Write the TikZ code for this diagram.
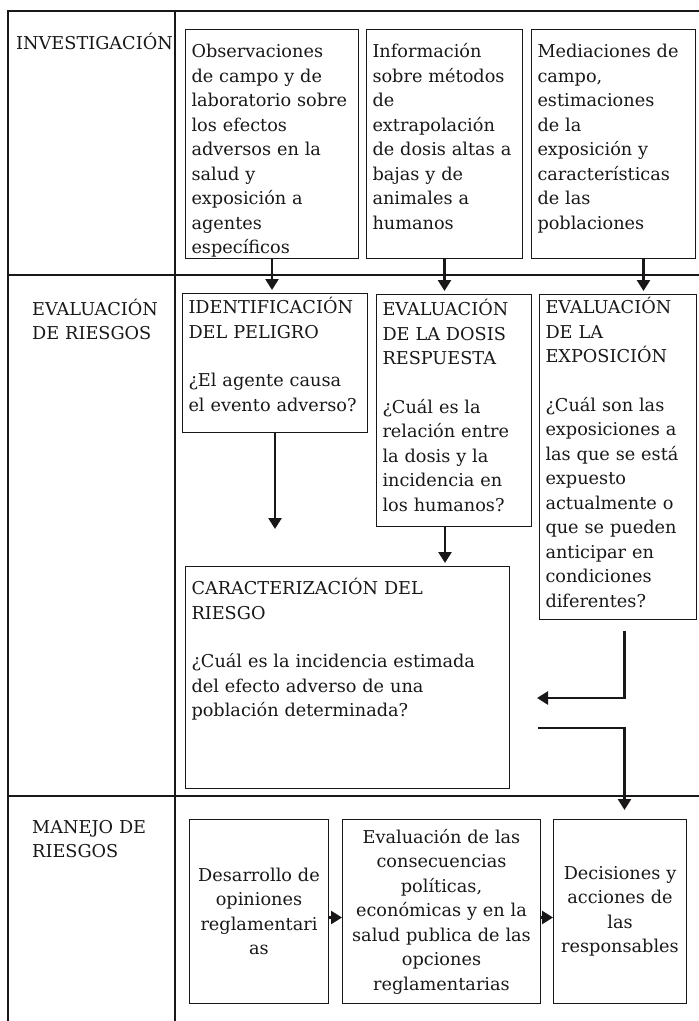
\documentclass[tikz,border=0pt]{standalone}
\usepackage{fontspec}
\setmainfont{DejaVu Serif}
\usetikzlibrary{arrows.meta,calc}
\definecolor{tinta}{HTML}{1A1718}
\tikzset{
  caja/.style={draw=tinta, line width=1pt, anchor=north west, inner xsep=6pt, inner ysep=0pt, align=left, text=tinta},
  cajac/.style={caja, align=center},
  etiqueta/.style={anchor=base west, inner sep=0pt, align=left, text width=155pt, text=tinta},
  flecha/.style={draw=tinta, line width=2.5pt, -{Triangle[length=11pt,width=13pt]}},
  linea/.style={draw=tinta, line width=1.2pt},
}
\begin{document}
\begin{tikzpicture}[x=1pt, y=-1pt, font=\fontsize{17.7}{24.5}\selectfont]
\useasboundingbox (0,0) rectangle (699,1021);

% tabla
\draw[linea] (8,1021) -- (8,11) -- (699,11);
\draw[linea] (175,11) -- (175,1021);
\draw[linea] (8,275) -- (699,275);
\draw[linea] (8,796) -- (699,796);

% etiquetas de las filas
\node[etiqueta] (inv) at (16,49) {INVESTIGACIÓN};
\node[etiqueta] (evr) at (32,315) {EVALUACIÓN\\DE RIESGOS};
\node[etiqueta] (man) at (32,833) {MANEJO DE\\RIESGOS};

% investigacion
\node[caja, text width=161pt, text height=28pt, text depth=201pt] (obs) at (185,29)
  {Observaciones\\de campo y de\\laboratorio sobre\\los efectos\\adversos en la\\salud y\\exposición a\\agentes\\específicos};
\node[caja, text width=144pt, text height=28pt, text depth=201pt] (inf) at (366,29)
  {Información\\sobre métodos\\de\\extrapolación\\de dosis altas a\\bajas y de\\animales a\\humanos};
\node[caja, text width=152pt, text height=28pt, text depth=201pt] (med) at (531,29)
  {Mediaciones de\\campo,\\estimaciones\\de la\\exposición y\\características\\de las\\poblaciones};

% evaluacion de riesgos
\node[caja, text width=173pt, text height=20pt, text depth=119pt] (ident) at (182,293)
  {IDENTIFICACIÓN\\DEL PELIGRO\\[24pt]¿El agente causa\\el evento adverso?};
\node[caja, text width=143pt, text height=21pt, text depth=211pt] (dosis) at (376,294)
  {EVALUACIÓN\\DE LA DOSIS\\RESPUESTA\\[24pt]¿Cuál es la\\relación entre\\la dosis y la\\incidencia en\\los humanos?};
\node[caja, text width=145pt, text height=19pt, text depth=306pt] (expo) at (539,294)
  {EVALUACIÓN\\DE LA\\EXPOSICIÓN\\[24pt]¿Cuál son las\\exposiciones a\\las que se está\\expuesto\\actualmente o\\que se pueden\\anticipar en\\condiciones\\diferentes?};
\node[caja, text width=312pt, text height=28pt, text depth=194pt] (carac) at (185,566)
  {CARACTERIZACIÓN DEL\\RIESGO\\[24pt]¿Cuál es la incidencia estimada\\del efecto adverso de una\\población determinada?};

% manejo de riesgos
\node[cajac, text width=127pt, minimum height=184pt] (des) at (189,819)
  {Desarrollo de\\opiniones\\reglamentari\\as};
\node[cajac, text width=186pt, minimum height=184pt] (cons) at (342,819)
  {Evaluación de las\\consecuencias\\políticas,\\económicas y en la\\salud publica de las\\opciones\\reglamentarias};
\node[cajac, text width=121pt, minimum height=184pt] (dec) at (553,819)
  {Decisiones y\\acciones de\\las\\responsables};

% flechas
\coordinate (finid) at ($(ident.south)+(0,96)$);
\coordinate (ex1) at ($(expo.south)+(6.5,11)$);
\coordinate (ex2) at (537,698);
\coordinate (ca1) at (538,728);
\draw[flecha, shorten >=3pt] (obs.south) -- (obs.south |- ident.north);
\draw[flecha, shorten >=3pt] (inf.south) -- (inf.south |- dosis.north);
\draw[flecha, shorten >=3pt] ([xshift=30pt]med.south) -- ([xshift=30pt]med.south |- expo.north);
\draw[flecha] (ident.south) -- (finid);
\draw[flecha, shorten >=3pt] ([xshift=-9pt]dosis.south) -- ([xshift=-9pt]dosis.south |- carac.north);
\draw[flecha] (ex1) |- (ex2);
\draw[flecha, shorten >=9pt] (ca1) -| ([xshift=4.5pt]dec.north);
\draw[flecha] ([yshift=-6pt]des.east) -- ([yshift=-6pt]cons.west);
\draw[flecha] ([yshift=-6pt]cons.east) -- ([yshift=-6pt]dec.west);
\end{tikzpicture}
\end{document}
